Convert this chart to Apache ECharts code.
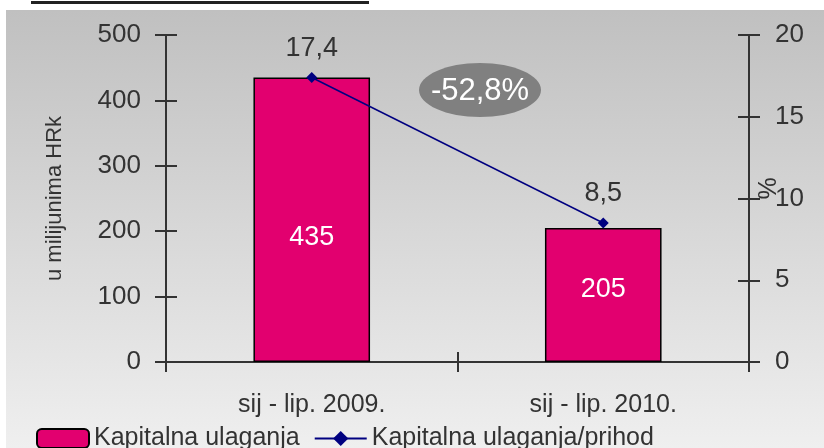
<!DOCTYPE html>
<html>
<head>
<meta charset="utf-8">
<script src="https://cdn.jsdelivr.net/npm/echarts@6/dist/echarts.min.js"></script>
<style>
  html, body { margin: 0; padding: 0; background: #fff; }
  #main { width: 824px; height: 448px; }
</style>
</head>
<body>
<div id="main"></div>
<script>
// data
const categories = ['sij - lip. 2009.', 'sij - lip. 2010.'];
const investment = [435, 205];        // u milijunima HRK
const investmentShare = [17.4, 8.5];  // % of income
const changeLabel = '-52,8%';

const font = 'Liberation Sans, Arial, sans-serif';
const txt = '#333';

const barLabelOffsets = [[0, 18], [0, -5]];

const myChart = echarts.init(document.getElementById('main'));

const axisLine = {show: true, lineStyle: {color: '#333', width: 2}};
const tickStyle = {color: '#333', width: 2};

const option = {
    animation: false,
    backgroundColor: '#fff',
    graphic: [
        {
            type: 'rect', left: 6, top: 10, z: -10,
            shape: {width: 818, height: 438},
            style: {
                fill: new echarts.graphic.LinearGradient(0, 0, 0, 1, [
                    {offset: 0, color: '#c0c0c0'},
                    {offset: 1, color: '#efefef'}
                ])
            }
        },
        {
            type: 'line', z: 10,
            shape: {x1: 31, y1: 2.5, x2: 369, y2: 2.5},
            style: {stroke: '#222', lineWidth: 3}
        },
        {
            type: 'ellipse', z: 10,
            shape: {cx: 480, cy: 90, rx: 61, ry: 27},
            style: {fill: '#808080'}
        },
        {
            type: 'text', z: 11, x: 480, y: 91,
            style: {
                text: changeLabel, fill: '#fff', font: '31px ' + font,
                align: 'center', verticalAlign: 'middle'
            }
        }
    ],
    grid: {left: 166, right: 75, top: 35, bottom: 86, containLabel: false, outerBoundsMode: 'none'},
    legend: {
        left: 31, top: 421, itemGap: 14, itemWidth: 52, itemHeight: 19,
        textStyle: {fontFamily: font, fontSize: 25, color: txt},
        data: [
            {name: 'Kapitalna ulaganja', itemStyle: {borderColor: '#000', borderWidth: 2}},
            {name: 'Kapitalna ulaganja/prihod'}
        ]
    },
    xAxis: [
        {
            type: 'category', data: categories,
            axisLine: axisLine,
            axisTick: {show: true, length: 10, lineStyle: tickStyle},
            axisLabel: {fontFamily: font, fontSize: 25, color: txt, margin: 31}
        },
        {
            type: 'category', data: categories, position: 'bottom',
            axisLine: {show: false},
            axisTick: {show: true, inside: true, length: 10, lineStyle: tickStyle},
            axisLabel: {show: false}
        }
    ],
    yAxis: [
        {
            type: 'value', min: 0, max: 500, interval: 100,
            name: 'u milijunima HRk', nameLocation: 'middle', nameGap: 100,
            nameMoveOverlap: false,
            nameTextStyle: {fontFamily: font, fontSize: 22, color: txt},
            axisLine: axisLine,
            axisTick: {show: true, length: 11, lineStyle: tickStyle},
            axisLabel: {fontFamily: font, fontSize: 26, color: txt, margin: 25},
            splitLine: {show: false}
        },
        {
            type: 'value', min: 0, max: 20, interval: 5, position: 'right',
            name: '%', nameLocation: 'middle', nameGap: 8, nameRotate: 90,
            nameMoveOverlap: false,
            nameTextStyle: {fontFamily: font, fontSize: 25, color: txt, padding: [0, 0, 0, 20]},
            axisLine: axisLine,
            axisTick: {show: true, length: 11, lineStyle: tickStyle},
            axisLabel: {fontFamily: font, fontSize: 26, color: txt, margin: 26},
            splitLine: {show: false}
        },
        {
            type: 'value', min: 0, max: 500, interval: 100, position: 'left',
            axisLine: {show: false},
            axisTick: {show: true, inside: true, length: 11, lineStyle: tickStyle},
            axisLabel: {show: false}, splitLine: {show: false}
        },
        {
            type: 'value', min: 0, max: 20, interval: 5, position: 'right',
            axisLine: {show: false},
            axisTick: {show: true, inside: true, length: 11, lineStyle: tickStyle},
            axisLabel: {show: false}, splitLine: {show: false}
        }
    ],
    series: [
        {
            name: 'Kapitalna ulaganja',
            type: 'bar',
            barWidth: '40%',
            itemStyle: {color: '#e2006f', borderColor: '#000', borderWidth: 1.5},
            label: {
                show: true, position: 'inside', color: '#fff',
                fontFamily: font, fontSize: 27
            },
            data: investment.map((v, i) => ({value: v, label: {offset: barLabelOffsets[i]}}))
        },
        {
            name: 'Kapitalna ulaganja/prihod',
            type: 'line',
            yAxisIndex: 1,
            symbol: 'diamond',
            symbolSize: 11,
            lineStyle: {color: '#000080', width: 1.5},
            itemStyle: {color: '#000080'},
            label: {
                show: true, position: 'top', distance: 10, color: txt,
                fontFamily: font, fontSize: 27,
                formatter: p => String(p.value).replace('.', ',')
            },
            data: investmentShare
        }
    ]
};

myChart.setOption(option);
</script>
</body>
</html>
